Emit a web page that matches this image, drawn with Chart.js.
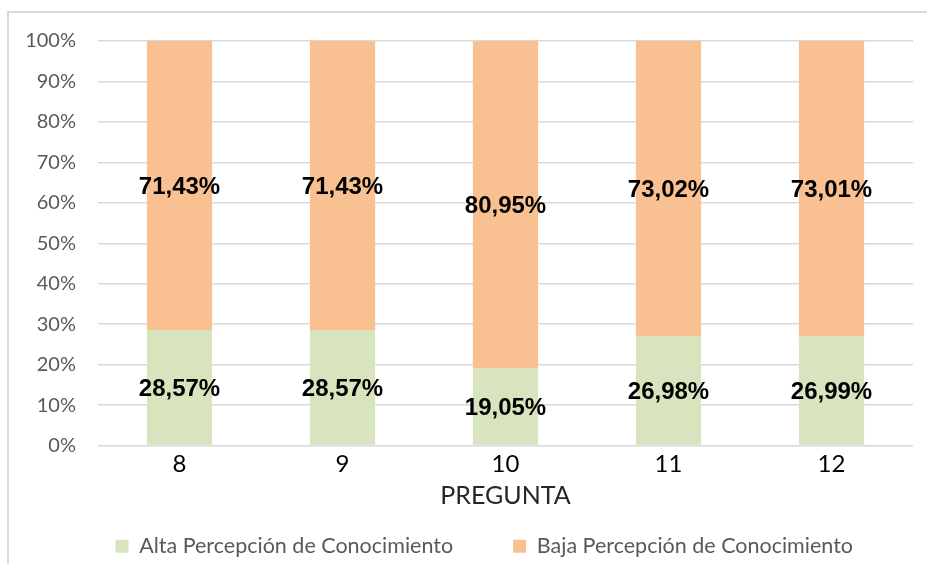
<!doctype html>
<html lang="es">

<head>
  <meta charset="UTF-8" />
  <title>Percepción de Conocimiento por Pregunta</title>
  <script src="https://cdn.jsdelivr.net/npm/chart.js"></script>
  <style>
    html, body { margin: 0; padding: 0; background: #fff; }
    .wrap { position: relative; width: 927px; height: 564px; overflow: hidden; }
    .frame {
      position: absolute; left: 7px; top: 11px; width: 960px; height: 600px;
      border: 2px solid #d9d9d9; box-sizing: border-box;
    }
    canvas { position: absolute; left: 0; top: 0; }
  </style>
</head>

<body>
  <div class="wrap">
    <div class="frame"></div>
    <canvas id="myChart" width="927" height="564"></canvas>
  </div>

  <script>
    const preguntas = ["8", "9", "10", "11", "12"];
    const alta = [28.57, 28.57, 19.05, 26.98, 26.99];
    const baja = [71.43, 71.43, 80.95, 73.02, 73.01];
    const yTickLabels = ["0%", "10%", "20%", "30%", "40%", "50%", "60%", "70%", "80%", "90%", "100%"];

    const fmt = (v) => v.toFixed(2).replace(".", ",") + "%";

    // value labels in the middle of each stacked segment
    const segmentLabels = {
      id: "segmentLabels",
      afterDatasetsDraw(chart) {
        const ctx = chart.ctx;
        ctx.save();
        ctx.font = "bold 24px 'Liberation Sans', Arial, sans-serif";
        ctx.fillStyle = "#000";
        ctx.textAlign = "center";
        ctx.textBaseline = "middle";
        chart.data.datasets.forEach((ds, i) => {
          chart.getDatasetMeta(i).data.forEach((bar, j) => {
            ctx.fillText(fmt(ds.data[j]), bar.x, (bar.y + bar.base) / 2 + 2);
          });
        });
        ctx.restore();
      },
    };

    new Chart(document.getElementById("myChart"), {
      type: "bar",
      data: {
        labels: preguntas,
        datasets: [
          {
            label: "Alta Percepción de Conocimiento",
            data: alta,
            backgroundColor: "#d7e4bd",
            categoryPercentage: 0.8,
            barPercentage: 0.5,
          },
          {
            label: "Baja Percepción de Conocimiento",
            data: baja,
            backgroundColor: "#f9c091",
            categoryPercentage: 0.8,
            barPercentage: 0.5,
          },
        ],
      },
      options: {
        responsive: false,
        animation: false,
        layout: { padding: { left: 18, right: 14, top: 41, bottom: -3 } },
        plugins: {
          tooltip: { enabled: false },
          legend: {
            position: "bottom",
            align: "end",
            labels: {
              boxWidth: 13,
              boxHeight: 13,
              padding: 60,
              color: "#595959",
              font: { family: "Lato", size: 21.5 },
            },
            // empty title with negative padding: pulls the row up so the
            // wide item gap (padding) doesn't also push it down
            title: { display: true, text: "", font: { size: 10, lineHeight: 1 }, padding: { top: 0, bottom: -45 } },
          },
        },
        scales: {
          x: {
            stacked: true,
            grid: { display: false },
            border: { display: false },
            ticks: { color: "#000", padding: -4, font: { family: "Lato", size: 24 } },
            title: {
              display: true,
              text: "PREGUNTA",
              color: "#262626",
              font: { family: "Lato", size: 25 },
              padding: { top: 4, bottom: 0 },
            },
            afterFit: (s) => { s.height = 65; },
          },
          y: {
            stacked: true,
            min: 0,
            max: 100,
            ticks: {
              stepSize: 10,
              color: "#595959",
              padding: 22,
              font: { family: "Lato", size: 20 },
              callback: (v, i) => yTickLabels[i],
            },
            grid: { color: "#d9d9d9", lineWidth: 1.5, drawTicks: false },
            border: { display: false },
            afterFit: (s) => { s.width = 80; },
          },
        },
      },
      plugins: [segmentLabels],
    });
  </script>
</body>

</html>
